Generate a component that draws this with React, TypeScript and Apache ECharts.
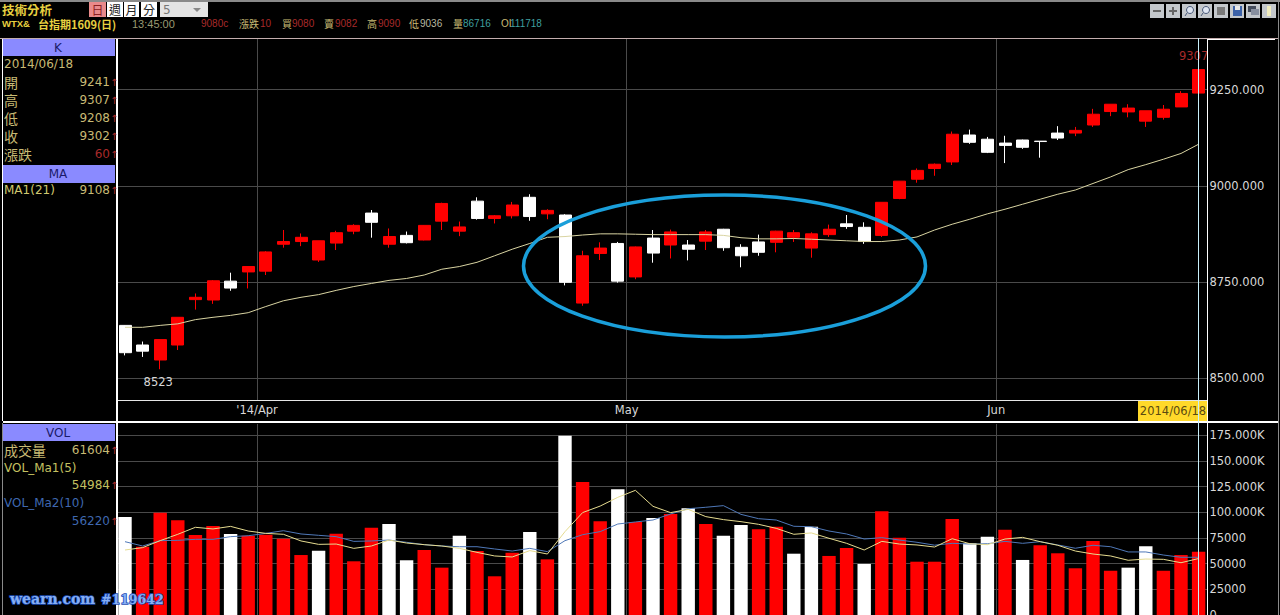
import React, { useEffect, useRef } from "react";
import * as echarts from "echarts";

const categories = [
  "2014/03/20","2014/03/21","2014/03/24","2014/03/25","2014/03/26","2014/03/27","2014/03/28","2014/03/31",
  "2014/04/01","2014/04/02","2014/04/03","2014/04/07","2014/04/08","2014/04/09","2014/04/10","2014/04/11",
  "2014/04/14","2014/04/15","2014/04/16","2014/04/17","2014/04/18","2014/04/21","2014/04/22","2014/04/23",
  "2014/04/24","2014/04/25","2014/04/28","2014/04/29","2014/04/30",
  "2014/05/02","2014/05/05","2014/05/06","2014/05/07","2014/05/08","2014/05/09","2014/05/12","2014/05/13",
  "2014/05/14","2014/05/15","2014/05/16","2014/05/19","2014/05/20","2014/05/21","2014/05/22","2014/05/23",
  "2014/05/26","2014/05/27","2014/05/28","2014/05/29","2014/05/30",
  "2014/06/03","2014/06/04","2014/06/05","2014/06/06","2014/06/09","2014/06/10","2014/06/11","2014/06/12",
  "2014/06/13","2014/06/16","2014/06/17","2014/06/18",
];
const monthLabels: Record<number, string> = { 8: "'14/Apr", 29: "May", 50: "Jun" };

const opens = [8637,8586,8547,8586,8704,8703,8752,8776,8778,8848,8855,8807,8851,8882,8929,8848,8871,8859,8908,8882,8960,8915,8922,8970,8927,8924,8695,8824,8850,8763,8864,8846,8846,8856,8887,8840,8854,8853,8866,8838,8873,8901,8892,8871,8967,9017,9045,9062,9132,9121,9111,9119,9116,9137,9137,9158,9193,9192,9168,9178,9205,9241];
const closes = [8566,8570,8600,8658,8710,8753,8734,8790,8828,8855,8866,8857,8878,8897,8905,8868,8852,8897,8954,8893,8915,8922,8950,8920,8936,8749,8818,8838,8752,8841,8825,8880,8835,8880,8839,8818,8827,8882,8878,8875,8887,8894,8855,8957,9012,9040,9056,9134,9113,9087,9105,9100,9115,9124,9144,9186,9212,9202,9195,9199,9240,9302];
const lows = [8559,8555,8523,8573,8678,8693,8727,8733,8768,8839,8843,8802,8833,8874,8865,8839,8850,8858,8885,8869,8912,8902,8915,8909,8913,8741,8688,8807,8748,8757,8800,8811,8806,8833,8831,8788,8818,8827,8854,8813,8867,8888,8849,8867,8965,9008,9026,9054,9109,9085,9059,9096,9073,9119,9129,9153,9181,9178,9153,9172,9205,9208];
const highs = [8638,8595,8600,8658,8720,8755,8774,8790,8830,8885,8876,8857,8883,8900,8937,8889,8881,8898,8956,8907,8970,8924,8958,8978,8939,8926,8831,8853,8854,8842,8885,8886,8859,8885,8888,8848,8873,8883,8885,8879,8899,8924,8905,8957,9012,9045,9058,9141,9146,9127,9130,9120,9116,9155,9153,9200,9212,9212,9195,9210,9246,9307];
const ma21 = [8632,8632,8637,8641,8652,8658,8663,8670,8686,8701,8710,8717,8728,8738,8746,8754,8759,8768,8783,8790,8801,8818,8835,8850,8866,8868,8872,8875,8875,8874,8873,8873,8873,8873,8871,8865,8862,8862,8863,8861,8859,8857,8855,8855,8859,8867,8885,8900,8913,8927,8939,8952,8965,8978,8989,9006,9023,9042,9055,9069,9084,9108];

const volumes = [95400,66500,99600,92200,77900,86700,78900,77200,78200,74300,58400,62600,79200,52300,85000,88600,53300,63300,46100,77200,62300,37700,60700,80800,54200,174600,129500,91200,122400,90600,94500,98400,103900,88600,77200,87700,83400,86000,59700,86000,57500,65300,49700,101000,75300,51900,51900,93500,69800,76300,83100,53600,67900,60100,45500,72100,43100,46100,66900,43100,58400,61604];
const volumeIsWhite = [1,0,0,0,0,0,1,0,0,0,0,1,0,0,0,1,1,0,0,1,0,0,0,1,0,1,0,0,1,0,1,0,1,0,1,1,0,0,1,1,0,0,1,0,0,0,0,0,1,1,0,1,0,0,0,0,0,1,1,0,0,0];
const volMa5 = [63300,65600,72400,78600,85400,83800,86300,81800,79500,78600,72100,68800,69100,64900,67200,73000,70100,68500,67200,64900,61000,57500,56500,62700,59400,81200,99700,106100,114600,121400,105800,99700,102900,95800,92900,90900,88300,84400,78600,79900,74700,69800,63300,71700,69100,68200,66200,74300,69400,68500,74000,75600,71400,67900,62300,59400,57500,53300,54500,54200,50900,54984];
const volMa10 = [71400,67200,72400,72700,73700,73700,76300,77200,79500,82100,78900,77600,76300,71700,72100,73000,70800,68500,67200,66500,66500,64300,62300,64900,61700,72400,78200,81200,88600,90600,92500,98400,103500,104900,106500,98000,93800,92500,86400,86000,81800,78900,74000,75300,73000,70800,68000,69800,69100,69400,71700,69800,71400,68200,65000,67900,66500,61400,61400,58400,56200,56220];

const priceTicks = [8500, 8750, 9000, 9250];
const volumeTicks = [0, 25000, 50000, 75000, 100000, 125000, 150000, 175000];
const lowestLabel = 8523;
const highestLabel = 9307;

const FONT = '"DejaVu Sans", Verdana, sans-serif';
const NARROW = '"Liberation Sans", Arial, sans-serif';
const CJK = '"Noto Sans CJK TC", sans-serif';
const KHAKI = "#c8ba74";
const DARKRED = "#a82a2a";
const HEADER = "#8a8aff";

function txt(text: string, x: number, y: number, fill: string, size = 12, align = "left", family = FONT, weight = "normal", extra: any = {}) {
  return {
    type: "text", x, y, z: 50, silent: true,
    style: { text, fill, font: `${weight} ${size}px ${family}`, textAlign: align, textVerticalAlign: "middle", ...extra },
  };
}
function rect(x: number, y: number, w: number, h: number, fill: string, z = 40) {
  return { type: "rect", z, silent: true, shape: { x, y, width: w, height: h }, style: { fill } };
}
function line(x1: number, y1: number, x2: number, y2: number, stroke: string, w = 1, z = 45) {
  return { type: "line", z, silent: true, shape: { x1, y1, x2, y2 }, style: { stroke, lineWidth: w } };
}

function panelRow(label: string, value: string, y: number, valueColor = KHAKI, labelColor = KHAKI) {
  const isCjk = /[^\x00-\x7f]/.test(label);
  return [
    txt(label, 4, y, labelColor, isCjk ? 14 : 12, "left", isCjk ? CJK : FONT),
    txt(value, 110, y, valueColor, 12, "right"),
    txt("↑", 110, y, DARKRED, 10, "left"),
  ];
}

function buildGraphics() {
  const g: any[] = [];
  // frame
  g.push(rect(0, 0, 1280, 2, "#8a8a8a"));
  g.push(line(0, 38.5, 1278, 38.5, "#c4aeae"));
  g.push(line(1278.5, 0, 1278.5, 615, "#8a8a8a"));
  g.push(line(2.5, 39, 2.5, 421, "#ffffff"));
  g.push(line(2.5, 423, 2.5, 615, "#8a8a8a"));
  g.push(line(117, 39, 117, 615, "#ffffff", 2));
  g.push(line(1207.5, 39, 1207.5, 615, "#ffffff"));
  g.push(line(118, 400.5, 1207, 400.5, "#e6e6e6"));
  g.push(line(3, 422, 1278, 422, "#ffffff", 2));
  g.push(line(1275, 39.5, 1207, 39.5, "#ffffff"));
  g.push(line(1198.5, 38, 1198.5, 615, "#c8f0fa", 1, 46));
  // date flag
  g.push(rect(1138, 401, 70, 20, "#ffd92a"));
  g.push(txt("2014/06/18", 1173, 411, "#5a4a10", 11.5, "center"));
  // header
  g.push(txt("技術分析", 2, 9.5, "#e8d040", 12.5, "left", CJK, "bold"));
  g.push(rect(89, 2, 17, 15, "#e98a8a"));
  g.push(txt("日", 97.5, 9.5, "#8a2020", 12, "center", CJK));
  g.push(rect(107, 2, 16, 15, "#ffffff"));
  g.push(txt("週", 115, 9.5, "#222222", 12, "center", CJK));
  g.push(rect(124, 2, 15, 15, "#ffffff"));
  g.push(txt("月", 131.5, 9.5, "#222222", 12, "center", CJK));
  g.push(rect(141, 2, 16, 15, "#ffffff"));
  g.push(txt("分", 149, 9.5, "#222222", 12, "center", CJK));
  g.push(rect(160, 2, 48, 15, "#e4e4e4"));
  g.push(txt("5", 163, 9.5, "#777777", 12));
  g.push({ type: "polygon", z: 50, silent: true, shape: { points: [[193, 8], [201, 8], [197, 12]] }, style: { fill: "#888888" } });
  // info row
  g.push(txt("WTX&", 2, 23.5, "#e8d040", 9.5, "left", NARROW, "bold"));
  g.push(txt("台指期1609(日)", 38, 23.5, "#e8d040", 11, "left", CJK, "bold"));
  g.push(txt("13:45:00", 132, 23.5, "#9a9a72", 11, "left", NARROW));
  const infoRow: [string, number, string][] = [
    ["9080c", 201, DARKRED], ["漲跌", 239, KHAKI], ["10", 260, DARKRED], ["買", 282, KHAKI], ["9080", 292, DARKRED],
    ["賣", 324, KHAKI], ["9082", 335, DARKRED], ["高", 367, KHAKI], ["9090", 378, DARKRED], ["低", 409, KHAKI],
    ["9036", 420, "#b8b8a0"], ["量", 453, KHAKI], ["86716", 463, "#3f9f9f"], ["OI", 501, KHAKI], ["111718", 510, "#3f9f9f"],
  ];
  infoRow.forEach(([t, x, c]) => {
    const isCjk = /[^\x00-\x7f]/.test(t);
    g.push(txt(t, x, 23.5, c, 10, "left", isCjk ? CJK : NARROW));
  });
  // toolbar
  const bx = [1150, 1166, 1182, 1198, 1214, 1230, 1246, 1262];
  bx.forEach((x) => g.push(rect(x, 4, 14, 14, "#c4c8cc")));
  g.push(line(1153, 11, 1161, 11, "#666666", 2, 50));
  g.push(line(1169, 11, 1177, 11, "#666666", 2, 50));
  g.push(line(1173, 7, 1173, 15, "#666666", 2, 50));
  [1190, 1206].forEach((cx) => {
    g.push({ type: "circle", z: 50, silent: true, shape: { cx, cy: 10, r: 3.5 }, style: { fill: "#dfe6f2", stroke: "#4a5a7a", lineWidth: 1 } });
    g.push(line(cx - 3, 13, cx - 5, 16, "#4a5a7a", 1, 50));
  });
  g.push(rect(1217, 7, 8, 8, "#7a7a7a", 50));
  g.push(rect(1233, 6, 9, 10, "#3c62a8", 50));
  g.push(rect(1235, 6, 5, 4, "#e8e8e8", 51));
  g.push(rect(1248, 6, 8, 6, "#444c5c", 50));
  g.push(rect(1251, 9, 8, 6, "#8890a0", 51));
  g.push(rect(1267, 6, 4, 10, "#f2eec0", 50));
  // K panel
  g.push(rect(3, 39, 112, 17, HEADER));
  g.push(txt("K", 58, 47.5, "#1a1a6a", 12, "center"));
  g.push(txt("2014/06/18", 4, 64, KHAKI, 12));
  g.push(...panelRow("開", "9241", 82));
  g.push(...panelRow("高", "9307", 100));
  g.push(...panelRow("低", "9208", 118));
  g.push(...panelRow("收", "9302", 136));
  g.push(...panelRow("漲跌", "60", 154, DARKRED));
  g.push(rect(3, 165, 112, 18, HEADER));
  g.push(txt("MA", 58, 174, "#1a1a6a", 12, "center"));
  g.push(...panelRow("MA1(21)", "9108", 190, KHAKI, "#d0c870"));
  // VOL panel
  g.push(rect(3, 424, 112, 17, HEADER));
  g.push(txt("VOL", 58, 432.5, "#1a1a6a", 12, "center"));
  g.push(...panelRow("成交量", "61604", 450));
  g.push(txt("VOL_Ma1(5)", 4, 468, "#c4c060", 12));
  g.push(txt("54984", 110, 485, "#c4c060", 12, "right"));
  g.push(txt("↑", 110, 485, DARKRED, 10));
  g.push(txt("VOL_Ma2(10)", 4, 503, "#3f68b0", 12));
  g.push(txt("56220", 110, 521, "#3f68b0", 12, "right"));
  g.push(txt("↑", 110, 521, DARKRED, 10));
  // annotation ellipse
  g.push({
    type: "ellipse", z: 60, silent: true,
    shape: { cx: 724.5, cy: 266, rx: 201, ry: 71 },
    style: { fill: "none", stroke: "#1a9fda", lineWidth: 3.5 },
  });
  // watermark
  g.push(txt("wearn.com", 10, 599, "#86aef2", 14, "left", '"DejaVu Serif", serif', "bold", { stroke: "#1c4cb4", lineWidth: 1.5 }));
  g.push(txt("#119642", 101, 599, "#86aef2", 12.5, "left", '"DejaVu Serif", serif', "bold", { stroke: "#1c4cb4", lineWidth: 1.5 }));
  return g;
}

function volumeLabel(v: number) {
  return v >= 100000 ? (v / 1000).toFixed(3) + "K" : String(v);
}

export default function App() {
  const ref = useRef<HTMLDivElement>(null);
  useEffect(() => {
    document.body.style.margin = "0";
    document.body.style.background = "#000";
    document.body.style.overflow = "hidden";
    const chart = echarts.init(ref.current!, undefined, { renderer: "svg" });
    const gridLine = { show: true, lineStyle: { color: "#4a4a4a", width: 1, type: "solid" as const } };
    const vInterval = (i: number) => monthLabels[i] !== undefined;
    const left = 116.2, width = 1091.2;
    chart.setOption({
      animation: false,
      backgroundColor: "#000000",
      textStyle: { fontFamily: FONT },
      graphic: buildGraphics(),
      grid: [
        { left, width, top: 39, height: 361, show: false, outerBoundsMode: "none" },
        { left, width, top: 424, height: 191, show: false, outerBoundsMode: "none" },
      ],
      xAxis: [
        {
          type: "category", gridIndex: 0, data: categories, boundaryGap: true,
          axisLine: { show: false }, axisTick: { show: false },
          splitLine: { ...gridLine, interval: (i: number) => vInterval(i) },
          axisLabel: {
            interval: (i: number) => vInterval(i),
            formatter: (_: string, i: number) => monthLabels[i] ?? "",
            color: "#d8d8d8", fontSize: 11.5, fontFamily: FONT, margin: 4, padding: [0, 17.6, 0, 0],
          },
        },
        {
          type: "category", gridIndex: 1, data: categories, boundaryGap: true,
          axisLine: { show: false }, axisTick: { show: false }, axisLabel: { show: false },
          splitLine: { ...gridLine, interval: (i: number) => vInterval(i) },
        },
      ],
      yAxis: [
        {
          type: "value", gridIndex: 0, position: "right", min: 8443, max: 9381.6, scale: true,
          axisLine: { show: false },
          axisTick: { show: false, customValues: priceTicks },
          splitLine: { ...gridLine, customValues: priceTicks },
          axisLabel: {
            customValues: priceTicks, color: "#d8d8d8", fontSize: 11.5, fontFamily: FONT, margin: 2,
            formatter: (v: number) => v.toFixed(3),
          },
        },
        {
          type: "value", gridIndex: 1, position: "right", min: 0, max: 186000,
          axisLine: { show: false },
          axisTick: { show: false, customValues: volumeTicks },
          splitLine: { ...gridLine, customValues: volumeTicks },
          axisLabel: {
            customValues: volumeTicks, color: "#d8d8d8", fontSize: 11.5, fontFamily: FONT, margin: 2,
            formatter: volumeLabel,
          },
        },
      ],
      series: [
        {
          type: "candlestick", xAxisIndex: 0, yAxisIndex: 0, barWidth: 12.5, z: 3,
          itemStyle: { color: "#ff0000", color0: "#ffffff", borderColor: "#ff0000", borderColor0: "#ffffff", borderWidth: 1 },
          data: categories.map((_, i) => [opens[i], closes[i], lows[i], highs[i]]),
          markPoint: {
            symbol: "circle", symbolSize: 1, silent: true, itemStyle: { color: "rgba(0,0,0,0)" },
            data: [
              { coord: [categories[2], lowestLabel], label: { show: true, position: "inside", formatter: String(lowestLabel), color: "#d8d8d8", fontSize: 11.5, fontFamily: FONT, offset: [-2, 13] } },
              { coord: [categories[61], highestLabel], label: { show: true, position: "inside", formatter: String(highestLabel), color: DARKRED, fontSize: 11.5, fontFamily: FONT, offset: [-5, -12] } },
            ],
          },
        },
        {
          type: "line", xAxisIndex: 0, yAxisIndex: 0, data: ma21, showSymbol: false, z: 4,
          lineStyle: { color: "#d9d4a2", width: 1 },
        },
        {
          type: "bar", xAxisIndex: 1, yAxisIndex: 1, barWidth: 13.4, z: 3,
          data: volumes.map((v, i) => ({ value: v, itemStyle: { color: volumeIsWhite[i] ? "#ffffff" : "#ff0000" } })),
        },
        {
          type: "line", xAxisIndex: 1, yAxisIndex: 1, data: volMa10, showSymbol: false, z: 4,
          lineStyle: { color: "#4f78b8", width: 1 },
        },
        {
          type: "line", xAxisIndex: 1, yAxisIndex: 1, data: volMa5, showSymbol: false, z: 5,
          lineStyle: { color: "#e6dc90", width: 1 },
        },
      ],
    });
    return () => chart.dispose();
  }, []);
  return <div ref={ref} style={{ position: "fixed", left: 0, top: 0, width: 1280, height: 615, overflow: "hidden" }} />;
}
